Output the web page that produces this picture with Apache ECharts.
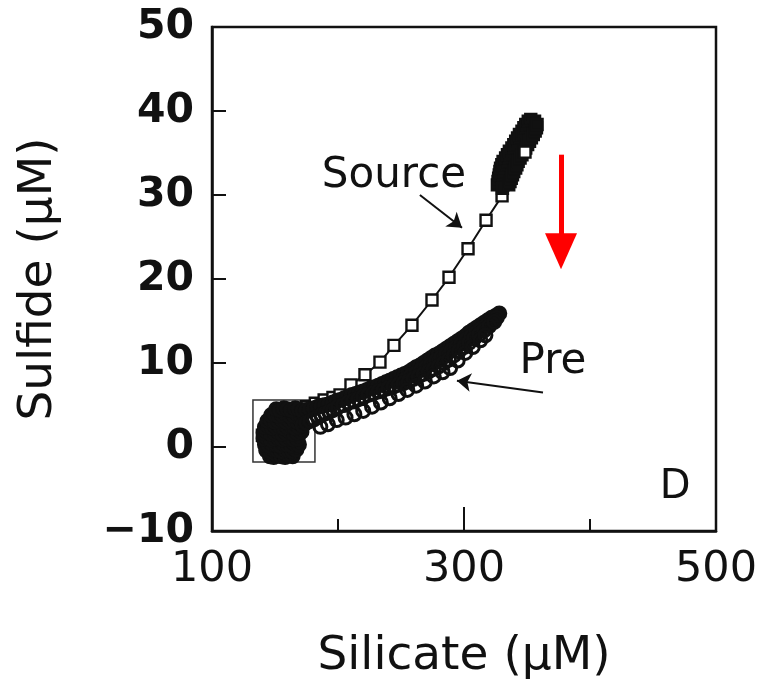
<!DOCTYPE html>
<html>
<head>
<meta charset="utf-8">
<script src="https://cdn.jsdelivr.net/npm/echarts@6.0.0/dist/echarts.min.js"></script>
<style>
  html, body { margin: 0; padding: 0; background: #fff; }
  #chart { width: 762px; height: 679px; }
</style>
</head>
<body>
<div id="chart"></div>
<script>
// axis ticks
const silicateLabels = [100, 300, 500];
const sulfideTicks = [-10, 0, 10, 20, 30, 40, 50];

// "Source" profile (squares joined by a line)
const sourceLower = [
  [140, 1.4], [145, 2.2], [150, 2.8], [156, 3.4], [162, 3.9], [168, 4.3],
  [175, 4.8], [182, 5.2], [189, 5.6], [196, 5.9], [201.6, 6.2], [210.3, 7.4],
  [221.4, 8.6], [233.3, 10.1], [244.4, 12.1], [258.7, 14.5], [274.6, 17.5],
  [288.1, 20.2], [303.2, 23.6], [317.5, 27.0], [330.2, 29.9]
];
// dense top end of the Source profile
const sourceCluster = [
  [326.5, 31.2], [327, 31.6], [327.5, 32.0], [328, 32.4], [328.5, 32.8], [329, 33.2],
  [330, 33.6], [331, 34.0], [333, 34.4], [334.5, 34.8], [336, 35.2], [338, 35.6],
  [339.5, 36.0], [341, 36.4], [342.5, 36.8], [344, 37.2], [346, 37.6], [347.5, 38.0],
  [349, 38.4], [351, 38.8], [353, 39.0],
  [356, 38.8], [355, 38.4], [353.5, 38.0], [352, 37.6], [350.5, 37.2], [349, 36.8],
  [347.5, 36.4], [346, 36.0], [344.5, 35.6], [343, 35.2], [341.5, 34.8], [340, 34.4],
  [338.5, 34.0], [337, 33.6], [336, 33.2], [335, 32.8], [334, 32.4], [333, 32.0],
  [332, 31.6], [331, 31.2], [330.5, 30.8],
  [335.5, 31.2], [336.5, 31.6], [337.5, 32.0], [338.5, 32.4], [339.5, 32.8], [341, 33.2],
  [342, 33.6], [343, 34.0], [344.5, 34.4], [346, 34.8], [347.5, 35.2], [349, 35.6],
  [350.5, 36.0], [352, 36.4], [353.5, 36.8], [355, 37.2], [356.5, 37.6], [357.5, 38.0],
  [358, 38.4], [348.4, 35.1]
];

// "Pre" profile (circles)
const preBox = [
  [146, -1.1], [149, -1.2], [152, -1.0], [155, -1.1], [158, -1.2], [161, -1.0], [164, -1.1],
  [143, -0.4], [146, -0.5], [149, -0.3], [152, -0.4], [155, -0.5], [158, -0.3], [161, -0.4], [164, -0.5], [167, -0.3],
  [142, 0.3], [145, 0.2], [148, 0.4], [151, 0.3], [154, 0.2], [157, 0.4], [160, 0.3], [163, 0.2], [166, 0.4], [169, 0.3],
  [141, 1.0], [144, 1.1], [147, 0.9], [150, 1.0], [153, 1.1], [156, 0.9], [159, 1.0], [162, 1.1], [165, 0.9], [168, 1.0],
  [141, 1.7], [144, 1.8], [147, 1.6], [150, 1.7], [153, 1.8], [156, 1.6], [159, 1.7], [162, 1.8], [165, 1.6], [168, 1.7], [171, 1.8],
  [142, 2.4], [145, 2.5], [148, 2.3], [151, 2.4], [154, 2.5], [157, 2.3], [160, 2.4], [163, 2.5], [166, 2.3], [169, 2.4], [172, 2.5],
  [144, 3.1], [147, 3.2], [150, 3.0], [153, 3.1], [156, 3.2], [159, 3.0], [162, 3.1], [165, 3.2], [168, 3.0], [171, 3.1],
  [147, 3.8], [150, 3.9], [153, 3.7], [156, 3.8], [159, 3.9], [162, 3.7], [165, 3.8], [168, 3.9], [171, 3.7],
  [151, 4.5], [154, 4.4], [157, 4.6], [160, 4.5], [163, 4.4], [166, 4.6], [169, 4.5]
];
const preUpper = [
  [172, 4.3], [175, 4.4], [178, 4.5], [181, 4.6], [184, 4.8], [187, 4.9],
  [190, 5.0], [193, 5.1], [196, 5.3], [199, 5.5], [202, 5.6], [205, 5.8],
  [208, 6.0], [211, 6.2], [214, 6.3], [217, 6.5], [220, 6.6], [223, 6.8],
  [226, 7.0], [229, 7.1], [232, 7.3], [235, 7.5], [238, 7.7], [241, 7.9],
  [244, 8.1], [247, 8.3], [250, 8.5], [253, 8.7], [256, 8.9], [259, 9.2],
  [262, 9.5], [265, 9.7], [268, 10.0], [271, 10.3], [274, 10.6], [277, 10.9],
  [280, 11.1], [283, 11.4], [286, 11.7], [289, 12.0], [292, 12.3], [295, 12.6],
  [298, 12.9], [301, 13.2], [304, 13.6], [307, 13.9], [310, 14.2], [313, 14.5],
  [316, 14.8], [319, 15.1], [322, 15.4], [325, 15.6], [328, 15.9]
];
const preMiddle = [
  [250, 7.8], [254, 8.1], [258, 8.5], [262, 8.8], [266, 9.2], [270, 9.5],
  [274, 9.9], [278, 10.3], [282, 10.7], [286, 11.1], [290, 11.5], [294, 11.9],
  [298, 12.3], [302, 12.8], [306, 13.2], [310, 13.6], [314, 14.1], [318, 14.5],
  [322, 14.9], [326, 15.4]
];
const preLower = [
  [172, 2.6], [175, 2.9], [178, 3.1], [181, 3.3], [184, 3.6], [187, 3.8],
  [190, 4.0], [193, 4.2], [196, 4.4], [200, 4.8], [204, 5.0], [208, 5.3],
  [212, 5.5], [216, 5.7], [220, 6.0], [224, 6.2], [228, 6.4], [232, 6.6],
  [236, 6.8], [240, 7.0], [244, 7.2], [248, 7.4], [252, 7.6], [256, 7.8],
  [260, 8.1], [264, 8.4], [268, 8.7], [272, 9.0], [276, 9.3], [280, 9.6],
  [284, 10.0], [288, 10.4], [292, 10.9], [296, 11.4], [300, 11.9], [304, 12.4],
  [308, 12.9], [312, 13.4], [316, 13.9], [320, 14.4], [324, 14.9]
];
const preOpen = [
  [186, 2.4], [192, 2.7], [199, 3.2], [206, 3.5], [213, 3.9], [220, 4.3],
  [227, 4.8], [234, 5.3], [241, 5.8], [248, 6.3], [255, 6.8], [262, 7.3],
  [269, 7.8], [276, 8.4], [283, 8.9], [289, 9.4], [295, 10.3], [301, 11.2],
  [307, 11.9], [313, 12.7], [317, 13.3]
];

const ink = '#111';
const font = 'DejaVu Sans';
const clear = 'rgba(0,0,0,0)';

// overlapping marks in the dense parts print as solid black
const solid = pts => pts.map(p => ({ value: p, itemStyle: { color: ink } }));
const hollow = (pts, fill) => pts.map(p => ({ value: p, itemStyle: { color: fill } }));

const sourceData = hollow(sourceLower, '#fff')
  .concat(solid(sourceCluster.slice(0, -1)))
  .concat(hollow(sourceCluster.slice(-1), '#fff'));
const preData = solid(preBox.concat(preUpper, preMiddle))
  .concat(hollow(preLower.concat(preOpen), clear));

const chart = echarts.init(document.getElementById('chart'));

chart.setOption({
  animation: false,
  backgroundColor: '#fff',
  grid: {
    left: 212, right: 46, top: 27, bottom: 148,
    outerBoundsMode: 'none',
    show: true, borderColor: ink, borderWidth: 2.5
  },
  xAxis: [{
    type: 'value', min: 100, max: 500, interval: 100,
    name: 'Silicate (μM)', nameLocation: 'middle', nameGap: 102,
    nameTextStyle: { fontFamily: font, fontSize: 47, color: ink },
    axisLine: { show: true, onZero: false, lineStyle: { color: ink, width: 2.5 } },
    axisTick: { show: true, inside: true, length: 12, lineStyle: { color: ink, width: 2 } },
    axisLabel: {
      margin: 17, fontFamily: font, fontSize: 43, color: ink,
      formatter: v => silicateLabels.includes(v) ? String(v) : ''
    },
    splitLine: { show: false }
  }, {
    // longer tick at the labelled value 300
    type: 'value', min: 100, max: 500, interval: 200, position: 'bottom',
    axisLine: { show: false, onZero: false },
    axisTick: { show: true, inside: true, length: 24, lineStyle: { color: ink, width: 2 } },
    axisLabel: { show: false },
    splitLine: { show: false }
  }],
  yAxis: {
    type: 'value', min: sulfideTicks[0], max: sulfideTicks[sulfideTicks.length - 1], interval: 10,
    name: 'Sulfide (μM)', nameLocation: 'middle', nameGap: 150,
    nameTextStyle: { fontFamily: font, fontSize: 47, color: ink },
    axisLine: { show: true, onZero: false, lineStyle: { color: ink, width: 2.5 } },
    axisTick: { show: true, inside: true, length: 14, lineStyle: { color: ink, width: 2 } },
    axisLabel: {
      margin: 18, fontFamily: font, fontWeight: 'bold', fontSize: 41, color: ink,
      formatter: v => v < 0 ? '\u2212' + Math.abs(v) : String(v)
    },
    splitLine: { show: false }
  },
  series: [{
    name: 'Source',
    type: 'line',
    z: 2,
    symbol: 'rect',
    symbolSize: 11,
    showAllSymbol: true,
    itemStyle: { color: '#fff', borderColor: ink, borderWidth: 2.4 },
    lineStyle: { color: ink, width: 2 },
    data: sourceData
  }, {
    name: 'Pre',
    type: 'scatter',
    z: 3,
    symbol: 'circle',
    symbolSize: 13,
    itemStyle: { color: clear, borderColor: ink, borderWidth: 3, opacity: 1 },
    data: preData,
    markArea: {
      silent: true,
      itemStyle: { color: clear, borderColor: '#333', borderWidth: 1.5 },
      data: [[{ coord: [132.5, 5.6] }, { coord: [181.7, -1.8] }]]
    },
    markLine: {
      silent: true,
      symbol: ['none', 'arrow'],
      symbolSize: 14,
      label: { show: false },
      lineStyle: { color: ink, width: 2, type: 'solid' },
      data: [
        [{ coord: [265, 30] }, { coord: [298.4, 26.1] }],
        [{ coord: [362.7, 6.5] }, { coord: [294.4, 7.9] }],
        [{ coord: [377, 34.8], lineStyle: { color: '#ff0000', width: 5 } },
         { coord: [377, 23.3], symbol: 'triangle', symbolSize: [32, 36] }]
      ]
    },
    markPoint: {
      silent: true,
      symbol: 'circle',
      symbolSize: 0,
      label: {
        show: true, position: 'inside', formatter: '{b}',
        fontFamily: font, fontSize: 42, color: ink
      },
      data: [
        { name: 'Source', coord: [244.4, 32.3] },
        { name: 'Pre', coord: [370.6, 10.1] },
        { name: 'D', coord: [467.5, -4.8], label: { fontSize: 40 } }
      ]
    }
  }]
});
</script>
</body>
</html>
